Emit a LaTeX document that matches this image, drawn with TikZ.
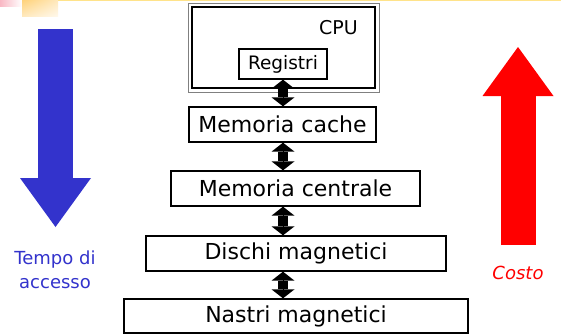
\documentclass[tikz,border=0pt]{standalone}
\usepackage{fontspec}
\setmainfont{DejaVu Sans}
\usetikzlibrary{arrows.meta, shadings}
\definecolor{accblue}{HTML}{3333CC}
\definecolor{topline}{HTML}{FFE38A}
\definecolor{cornerpink}{HTML}{F9B8C4}
\definecolor{cornergold}{HTML}{FFD27A}

\begin{document}
\begin{tikzpicture}[
            x=1pt, y=-1pt,
            level/.style={draw, line width=1.3pt, inner sep=0pt, font=\fontsize{22}{25}\selectfont},
            link/.style={line width=10pt, line cap=butt,
                preaction={draw, arrows=-, shorten <=4pt, shorten >=4pt},
                {Triangle[width=23pt,length=9pt,line width=0pt]}-{Triangle[width=23pt,length=9pt,line width=0pt]}},
            bigarrow/.style={line width=35pt, -{Triangle[width=71pt,length=49pt,line width=0pt]}}
        ]
            \useasboundingbox (0,0) rectangle (561,335);
            \fill[white] (0,0) rectangle (561,335);
            \shade[left color=cornerpink, right color=white] (0,0) rectangle (22,6);
            \shade[upper left=cornergold, upper right=cornergold!50, lower left=cornergold!50, lower right=cornergold!15] (22,0) rectangle (58,16);
            \fill[topline] (58,0) rectangle (561,1.3);

            \node[draw, line width=2.4pt, minimum width=183pt, minimum height=81pt] (cpu) at (283.5,47.5) {};
            \draw[gray, line width=0.8pt] ([xshift=-2.8pt,yshift=-2.8pt]cpu.south west) rectangle ([xshift=2.8pt,yshift=2.8pt]cpu.north east);
            \node[font=\fontsize{19}{21}\selectfont] (cpulabel) at (338.5,28) {CPU};
            \node[level, font=\fontsize{18.5}{20}\selectfont, minimum width=88pt, minimum height=30pt] (reg) at (283,64) {Registri};

            \node[level, minimum width=187pt, minimum height=35pt] (cache) at (282.5,124.5) {Memoria cache};
            \node[level, minimum width=249pt, minimum height=35pt] (main) at (295.5,188.5) {Memoria centrale};
            \node[level, minimum width=300pt, minimum height=35pt] (disk) at (296,253.5) {Dischi magnetici};
            \node[level, minimum width=344pt, minimum height=34pt] (tape) at (296,316) {Nastri magnetici};

            \draw[link] (reg.south) -- (reg.south |- cache.north);
            \draw[link] (reg.south |- cache.south) -- (reg.south |- main.north);
            \draw[link] (reg.south |- main.south) -- (reg.south |- disk.north);
            \draw[link] (reg.south |- disk.south) -- (reg.south |- tape.north);

            \coordinate (timetop) at (55.5,29);
            \coordinate (timetip) at (55.5,227);
            \coordinate (costbot) at (518,245);
            \coordinate (costtip) at (518,47);
            \draw[bigarrow, accblue] (timetop) -- (timetip);
            \draw[bigarrow, red] (costbot) -- (costtip);

            \node[accblue, align=center, font=\fontsize{18}{24}\selectfont] (time) at (55,270) {Tempo di\\accesso};
            \node[red, font=\itshape\fontsize{18}{20}\selectfont] (cost) at (518,273) {Costo};
        \end{tikzpicture}
\end{document}
